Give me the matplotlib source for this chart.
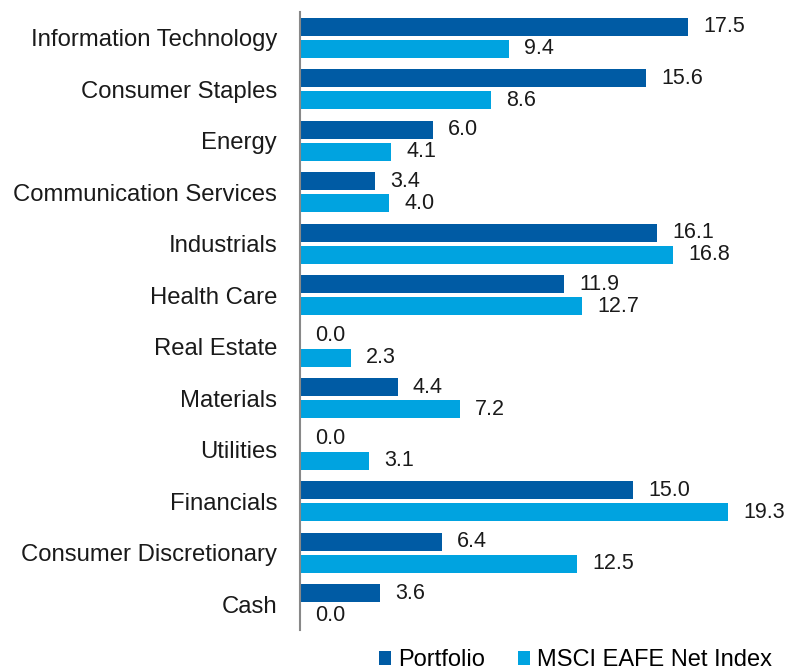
import matplotlib.pyplot as plt
import numpy as np

plt.rcParams['font.family'] = ['Liberation Sans', 'DejaVu Sans']

# data
sectors = ["Information Technology", "Consumer Staples", "Energy",
           "Communication Services", "Industrials", "Health Care",
           "Real Estate", "Materials", "Utilities", "Financials",
           "Consumer Discretionary", "Cash"]
portfolio = [17.5, 15.6, 6.0, 3.4, 16.1, 11.9, 0.0, 4.4, 0.0, 15.0, 6.4, 3.6]
msci = [9.4, 8.6, 4.1, 4.0, 16.8, 12.7, 2.3, 7.2, 3.1, 19.3, 12.5, 0.0]

dark = "#005BA4"
light = "#00A3E0"

fig = plt.figure(figsize=(7.9, 6.71), dpi=100)
ax = fig.add_axes([300/790, 41/671, 488/790, 618/671])

y = np.arange(len(sectors))
off = 0.213
h = 0.35
ax.barh(y - off, portfolio, height=h, color=dark, label="Portfolio")
ax.barh(y + off, msci, height=h, color=light, label="MSCI EAFE Net Index")

for yi, v in zip(y, portfolio):
    ax.annotate(f"{v:.1f}", (v, yi - off), xytext=(11, 0),
                textcoords="offset points", va="center", ha="left",
                fontsize=15.5, color="#1a1a1a")
for yi, v in zip(y, msci):
    ax.annotate(f"{v:.1f}", (v, yi + off), xytext=(11, 0),
                textcoords="offset points", va="center", ha="left",
                fontsize=15.5, color="#1a1a1a")

ax.set_xlim(0, 22)
ax.set_ylim(len(sectors) - 0.5, -0.5)
ax.set_yticks(y)
ax.set_yticklabels(sectors, fontsize=17.2, color="#1a1a1a")
ax.tick_params(axis="y", length=0, pad=16.5)
ax.set_xticks([])
for s in ["top", "right", "bottom"]:
    ax.spines[s].set_visible(False)
ax.spines["left"].set_color("#888888")
ax.spines["left"].set_linewidth(1.5)

fig.legend(loc="center", bbox_to_anchor=(0.7285, 0.016), ncol=2,
           frameon=False, fontsize=17, handlelength=0.5, handleheight=0.5,
           handletextpad=0.3, columnspacing=1.4, borderpad=0)

fig.savefig("out.png", dpi=100)
